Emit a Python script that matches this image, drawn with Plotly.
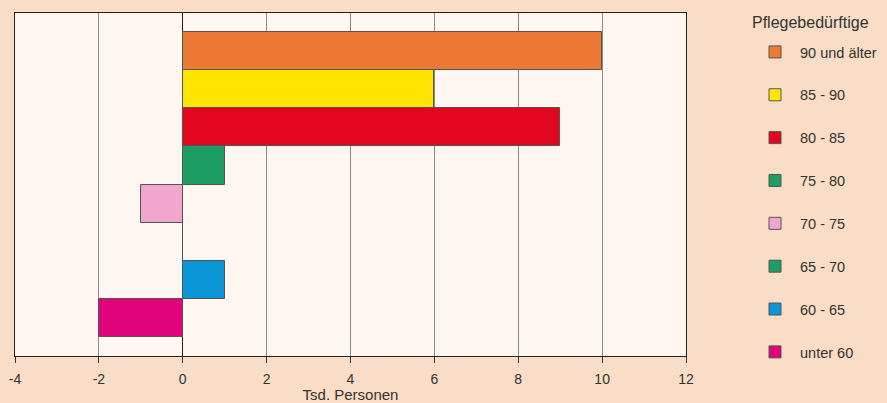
import plotly.graph_objects as go

categories = ["90 und älter", "85 - 90", "80 - 85", "75 - 80", "70 - 75", "65 - 70", "60 - 65", "unter 60"]
values = [10, 6, 9, 1, -1, 0, 1, -2]
colors = ["#EC7A34", "#FFE500", "#E2061F", "#1E9E62", "#F0A6CD", "#1E9E62", "#0A96D6", "#E2037C"]
xticks = [-4, -2, 0, 2, 4, 6, 8, 10, 12]
legend_title = "Pflegebedürftige"
x_title = "Tsd. Personen"

fig = go.Figure()
for cat, val, col in zip(categories, values, colors):
    fig.add_trace(go.Bar(
        y=[cat], x=[val], orientation="h", name=cat,
        marker=dict(color=col, line=dict(color="#555555", width=1)),
        legendgroup=cat, width=1.0,
    ))

fig.add_annotation(
    text=legend_title, xref="paper", yref="paper",
    x=(750 - 15) / 671, y=1 + (13 - 22) / 343,
    xanchor="left", yanchor="middle", showarrow=False,
    font=dict(size=16, color="#333333"),
)

fig.update_layout(
    width=887, height=403,
    margin=dict(l=15, r=201, t=13, b=47, autoexpand=False),
    paper_bgcolor="#FADDC6",
    plot_bgcolor="#FEF6F0",
    barmode="overlay",
    bargap=0,
    font=dict(family="Liberation Sans, Arial, sans-serif", size=12, color="#333333"),
    showlegend=True,
    legend=dict(
        xref="container", yref="container",
        x=750 / 887, y=1 - 36 / 403, xanchor="left", yanchor="top",
        traceorder="grouped", tracegroupgap=21,
        font=dict(size=14.5, color="#333333"),
        bgcolor="rgba(0,0,0,0)",
        itemwidth=40, maxheight=400,
    ),
    xaxis=dict(
        range=[-4, 12], tickvals=xticks, ticktext=[str(t) for t in xticks],
        showgrid=True, gridcolor="#8a8a8a", gridwidth=1,
        zeroline=True, zerolinecolor="#222222", zerolinewidth=1,
        showline=True, linecolor="#222222", linewidth=1, mirror=True,
        ticks="outside", ticklen=6, tickcolor="#333333",
        tickfont=dict(size=14), ticklabelstandoff=4,
        automargin=False,
        title=dict(text=x_title, font=dict(size=15), standoff=7),
    ),
    yaxis=dict(
        categoryorder="array", categoryarray=categories[::-1],
        range=[-1, 8], showticklabels=False, ticks="",
        showgrid=False, showline=True, linecolor="#222222", linewidth=1, mirror=True,
        automargin=False,
    ),
)

fig.write_html("out.html")
